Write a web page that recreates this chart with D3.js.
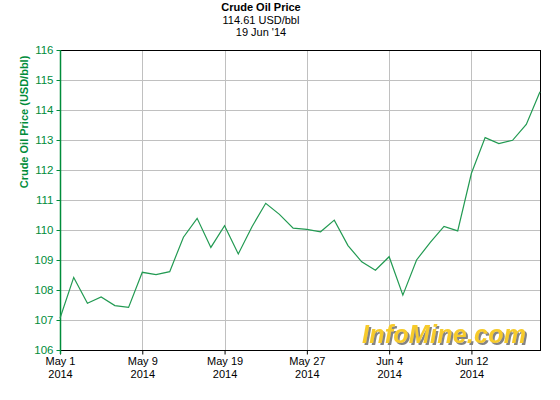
<!DOCTYPE html>
<html lang="en">
<head>
	<meta charset="UTF-8">
	<title>Crude Oil Price</title>
	<script src="https://d3js.org/d3.v7.min.js" charset="utf-8"></script>
	<style>
		body { margin: 0; background: #fff; }
		svg { display: block; font-family: "Liberation Sans", Arial, sans-serif; }
	</style>
</head>
<body>
	<svg id="chart" width="560" height="400"></svg>
<script>
// trading days, May 1 .. Jun 19 2014
var dates = ["May 1","May 2","May 5","May 6","May 7","May 8","May 9","May 12","May 13","May 14",
	"May 15","May 16","May 19","May 20","May 21","May 22","May 23","May 26","May 27","May 28",
	"May 29","May 30","Jun 2","Jun 3","Jun 4","Jun 5","Jun 6","Jun 9","Jun 10","Jun 11",
	"Jun 12","Jun 13","Jun 16","Jun 17","Jun 18","Jun 19"];
var prices = [107.06,108.42,107.56,107.77,107.48,107.42,108.59,108.51,108.61,109.76,
	110.39,109.42,110.14,109.20,110.11,110.89,110.52,110.06,110.02,109.94,
	110.33,109.48,108.94,108.66,109.11,107.83,109.00,109.59,110.12,109.97,
	111.89,113.08,112.88,112.99,113.52,114.61];
var tickIdx = [0, 6, 12, 18, 24, 30];
var yTicks = [106,107,108,109,110,111,112,113,114,115,116];

var svg = d3.select("#chart");
var pLeft = 60, pRight = 540, pTop = 50, pBottom = 350;
var green = "#008c3a";

var x = d3.scaleLinear().domain([0, dates.length - 1]).range([pLeft, pRight]);
var y = d3.scaleLinear().domain([106, 116]).range([pBottom, pTop]);

// shadow for the watermark
var filt = svg.append("defs").append("filter").attr("id", "shadow")
	.attr("x", "-5%").attr("y", "-20%").attr("width", "115%").attr("height", "150%");
filt.append("feDropShadow")
	.attr("dx", 2).attr("dy", 2).attr("stdDeviation", 0.6)
	.attr("flood-color", "#777").attr("flood-opacity", 0.9);

// grid
svg.append("g").selectAll("line")
	.data(yTicks)
	.enter().append("line")
	.attr("x1", pLeft).attr("x2", pRight)
	.attr("y1", function(d){ return y(d) + 0.5; })
	.attr("y2", function(d){ return y(d) + 0.5; })
	.attr("stroke", "#c0c0c0");

svg.append("g").selectAll("line")
	.data(tickIdx.slice(1))
	.enter().append("line")
	.attr("y1", pTop).attr("y2", pBottom)
	.attr("x1", function(d){ return Math.round(x(d)) + 0.5; })
	.attr("x2", function(d){ return Math.round(x(d)) + 0.5; })
	.attr("stroke", "#c0c0c0");

// watermark
svg.append("text")
	.attr("x", 362).attr("y", 343)
	.attr("textLength", 164)
	.attr("font-size", 25).attr("font-weight", "bold").attr("font-style", "italic")
	.attr("fill", "#f7cb2a")
	.attr("filter", "url(#shadow)")
	.text("InfoMine.com");

// frame
svg.append("line").attr("x1", pLeft).attr("x2", pRight + 1).attr("y1", pTop + 0.5).attr("y2", pTop + 0.5).attr("stroke", "#000");
svg.append("line").attr("x1", pRight + 0.5).attr("x2", pRight + 0.5).attr("y1", pTop).attr("y2", pBottom).attr("stroke", "#000");

// x axis
var xAxis = d3.axisBottom(x)
	.tickValues(tickIdx)
	.tickSize(4)
	.tickPadding(3)
	.tickFormat(function(d){ return dates[d]; });
var gx = svg.append("g")
	.attr("transform", "translate(0," + (pBottom + 0.5) + ")")
	.call(xAxis);
gx.select(".domain").attr("stroke", "#000").attr("d", "M" + pLeft + ",0H" + (pRight + 1));
gx.selectAll(".tick line").attr("stroke", "#000");
gx.selectAll(".tick text")
	.attr("font-size", 11).attr("fill", "#000").attr("font-family", null)
	.each(function(d){
		var t = d3.select(this);
		t.text(null);
		t.append("tspan").attr("x", 0).attr("dy", "0.71em").text(dates[d]);
		t.append("tspan").attr("x", 0).attr("dy", "1.15em").text("2014");
	})
	.attr("dy", null);

// y axis
var yAxis = d3.axisLeft(y)
	.tickValues(yTicks)
	.tickSize(4)
	.tickPadding(3)
	.tickFormat(d3.format("d"));
var gy = svg.append("g")
	.attr("transform", "translate(" + (pLeft + 0.5) + ",0)")
	.call(yAxis);
gy.select(".domain").attr("stroke", green).attr("stroke-width", 1.5).attr("d", "M0," + pTop + "V" + (pBottom + 4));
gy.selectAll(".tick line").attr("stroke", green);
gy.selectAll(".tick text").attr("font-size", 11.5).attr("fill", green).attr("font-family", null);

svg.append("text")
	.attr("transform", "translate(28,122) rotate(-90)")
	.attr("text-anchor", "middle")
	.attr("font-size", 11).attr("font-weight", "bold")
	.attr("fill", green)
	.text("Crude Oil Price (USD/bbl)");

// price line
var line = d3.line()
	.x(function(d, i){ return x(i); })
	.y(function(d){ return y(d); });
svg.append("path")
	.datum(prices)
	.attr("d", line)
	.attr("fill", "none")
	.attr("stroke", "#229a52")
	.attr("stroke-width", 1.2);

// titles
svg.append("text").attr("x", 261).attr("y", 11).attr("text-anchor", "middle")
	.attr("font-size", 11).attr("font-weight", "bold").text("Crude Oil Price");
svg.append("text").attr("x", 261).attr("y", 23.5).attr("text-anchor", "middle")
	.attr("font-size", 11).text(prices[prices.length - 1] + " USD/bbl");
svg.append("text").attr("x", 261).attr("y", 35.5).attr("text-anchor", "middle")
	.attr("font-size", 11).text("19 Jun '14");
</script>
</body>
</html>
